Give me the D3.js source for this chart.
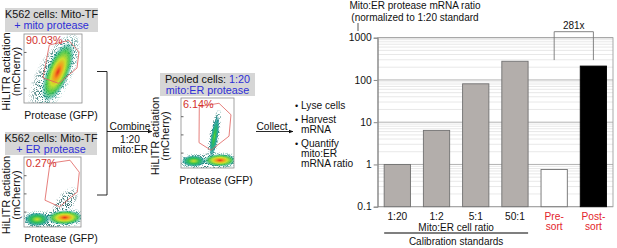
<!DOCTYPE html>
<html><head><meta charset="utf-8">
<script src="https://cdn.jsdelivr.net/npm/d3@7"></script>
<style>
html,body{margin:0;padding:0;background:#fff;}
svg{display:block;font-family:"Liberation Sans",Arial,Helvetica,sans-serif;}
</style></head><body>
<svg id="fig" width="617" height="248"></svg>
<script>
// ---------- bar chart data ----------
const categories = ["1:20", "1:2", "5:1", "50:1", "Pre-sort", "Post-sort"];
const categoryLines = [["1:20"], ["1:2"], ["5:1"], ["50:1"], ["Pre-", "sort"], ["Post-", "sort"]];
const ratioValues = [1, 6.4, 81, 277, 0.76, 213];
const barKinds = ["standard", "standard", "standard", "standard", "pre", "post"];
const yTickValues = [0.1, 1, 10, 100, 1000];
const yTickLabels = ["0.1", "1", "10", "100", "1000"];
const foldLabel = "281x";
const yTitleLines = ["Mito:ER protease mRNA ratio", "(normalized to 1:20 standard"];

// ---------- flow panels data (GFP x, mCherry y, 0-100 display units) ----------
const panelNames = ["mito", "er", "pooled"];
const headerLine1 = [["K562 cells: Mito-TF"], ["K562 cells: Mito-TF"], ["Pooled cells: ", "1:20"]];
const headerLine2 = ["+ mito protease", "+ ER protease", "mito:ER protease"];
const gatePercents = ["90.03%", "0.27%", "6.14%"];
const gateMito = [[43.6, 84], [77.1, 90.6], [94.8, 74.2], [91.4, 50.7], [60, 28.4], [32.8, 36.4]];
const gateER = [[45.6, 91.1], [80.7, 95.4], [97, 78.2], [93.5, 50], [62.5, 28.9], [36.8, 38.3]];
const gatePooled = [[34.5, 87.7], [71.7, 92.5], [94.3, 76.1], [90.6, 45.5], [56.6, 25.4], [34, 36.2]];
// populations: [gfp1, mch1, gfp2, mch2, spread, peak density]
const popsMito = [[22, 0, 82, 88, 30, 0.15], [42, 12, 75, 78, 20, 1.0]];
const popsER = [[2, 8, 99, 13, 18, 0.15], [56, 16, 86, 50, 17, 0.1], [8, 11, 38, 11, 12, 0.62],
                [48, 13, 95, 14, 13, 1.0]];
const popsPooled = [[2, 8, 99, 10, 17, 0.15], [53, 12, 72, 80, 10, 0.12], [57, 18, 69, 72, 7, 0.48],
                    [8, 10, 40, 10, 11, 0.62], [50, 11, 97, 11, 12, 1.0]];
const combineLabels = ["Combine", "1:20", "mito:ER"];
const collectLabel = "Collect";
const stepItems = [["Lyse cells"], ["Harvest", "mRNA"], ["Quantify", "mito:ER", "mRNA ratio"]];
const axisLabelY = ["HiLITR actiation", "(mCherry)"];
const axisLabelX = "Protease (GFP)";

const svg = d3.select("#fig");
const defs = svg.append("defs");
const BLUE = "#2e2ed6", RED = "#d2322d";

// arrow marker
defs.append("marker").attr("id", "arr").attr("viewBox", "0 0 10 10").attr("refX", 9).attr("refY", 5)
  .attr("markerWidth", 5).attr("markerHeight", 5).attr("orient", "auto")
  .append("path").attr("d", "M0,1 L10,5 L0,9 Z").attr("fill", "#111");

// speckle filter
const flt = defs.append("filter").attr("id", "speckle").attr("filterUnits", "userSpaceOnUse")
  .attr("x", 0).attr("y", 0).attr("width", 617).attr("height", 248);
flt.append("feTurbulence").attr("type", "fractalNoise").attr("baseFrequency", 1.1).attr("numOctaves", 2).attr("seed", 11).attr("result", "noise");
flt.append("feColorMatrix").attr("in", "noise").attr("type", "matrix")
  .attr("values", "0 0 0 0 0  0 0 0 0 0  0 0 0 0 0  0 0 0 9 -4.6").attr("result", "mask");
flt.append("feComposite").attr("in", "SourceGraphic").attr("in2", "mask").attr("operator", "in");

const density = d3.scaleLinear().domain([0, 0.2, 0.4, 0.6, 0.8, 1])
  .range(["#2f6f8a", "#1fa39a", "#33c24a", "#cde02c", "#f7a21e", "#e5311c"]);

// panel geometry (layout only)
const panelBox = [
  {x0: 24, x1: 82, y0: 34, y1: 103, hx0: 5, hx1: 98, hy0: 8, hy1: 32, ylx: 6, xlx: 61, xly: 119},
  {x0: 24, x1: 81, y0: 157, y1: 227, hx0: 5, hx1: 97, hy0: 132, hy1: 155, ylx: 6, xlx: 61, xly: 242},
  {x0: 181, x1: 234, y0: 98, y1: 168, hx0: 160, hx1: 255, hy0: 73, hy1: 96, ylx: 155, xlx: 216, xly: 184}
];
const gates = [gateMito, gateER, gatePooled];
const pops = [popsMito, popsER, popsPooled];

panelNames.forEach((name, pi) => {
  const b = panelBox[pi];
  const xs = d3.scaleLinear().domain([0, 100]).range([b.x0, b.x1]);
  const ys = d3.scaleLinear().domain([0, 100]).range([b.y1, b.y0]);
  const k = xs(1) - xs(0);
  const g = svg.append("g");
  // header
  g.append("rect").attr("x", b.hx0).attr("y", b.hy0).attr("width", b.hx1 - b.hx0).attr("height", b.hy1 - b.hy0).attr("fill", "#d6d6d6");
  const hc = (b.hx0 + b.hx1) / 2;
  const t1 = g.append("text").attr("x", hc).attr("y", b.hy0 + 9.5).attr("text-anchor", "middle").attr("font-size", 10.8).attr("fill", "#111");
  headerLine1[pi].forEach((s, i) => t1.append("tspan").text(s).attr("fill", i === 0 ? "#111" : BLUE));
  g.append("text").attr("x", hc).attr("y", b.hy0 + 20.5).attr("text-anchor", "middle").attr("font-size", 10.8).attr("fill", BLUE).text(headerLine2[pi]);
  // clip
  const cid = "clip" + pi;
  defs.append("clipPath").attr("id", cid).append("rect").attr("x", b.x0).attr("y", b.y0).attr("width", b.x1 - b.x0).attr("height", b.y1 - b.y0);
  const dg = g.append("g").attr("clip-path", `url(#${cid})`);
  const speck = dg.append("g").attr("filter", "url(#speckle)");
  const smooth = dg.append("g");
  pops[pi].forEach((p, j) => {
    const [gx1, my1, gx2, my2, sp, peak] = p;
    const X1 = xs(gx1), Y1 = ys(my1), X2 = xs(gx2), Y2 = ys(my2);
    const cx = (X1 + X2) / 2, cy = (Y1 + Y2) / 2;
    const L = Math.hypot(X2 - X1, Y2 - Y1);
    const w = sp * k;
    const ang = Math.atan2(Y2 - Y1, X2 - X1) * 180 / Math.PI;
    const rx = L / 2 + w * 0.6, ry = w;
    const tf = `translate(${cx},${cy}) rotate(${ang})`;
    // speckled outer scatter (dark teal dots)
    const hid = `h${pi}_${j}`;
    const hg = defs.append("radialGradient").attr("id", hid);
    [[0, 1], [0.6, 0.9], [1, 0]].forEach(([o, op]) =>
      hg.append("stop").attr("offset", o).attr("stop-color", peak < 0.3 ? "#2c6a6a" : "#1e8a7e").attr("stop-opacity", op));
    const hs = peak < 0.3 ? 1 : 1.35;
    speck.append("ellipse").attr("rx", rx * hs).attr("ry", ry * hs).attr("transform", tf).attr("fill", `url(#${hid})`);
    if (peak >= 0.3) {
      const sid = `s${pi}_${j}`;
      const sg = defs.append("radialGradient").attr("id", sid);
      [[0, 1, 1], [0.22, 0.82, 1], [0.45, 0.6, 1], [0.7, 0.42, 0.9], [0.88, 0.25, 0.55], [1, 0.15, 0]].forEach(([o, f, op]) =>
        sg.append("stop").attr("offset", o).attr("stop-color", density(peak * f)).attr("stop-opacity", op));
      smooth.append("ellipse").attr("rx", rx).attr("ry", ry).attr("transform", tf).attr("fill", `url(#${sid})`);
    }
  });
  // frame and ticks
  g.append("rect").attr("x", b.x0).attr("y", b.y0).attr("width", b.x1 - b.x0).attr("height", b.y1 - b.y0)
    .attr("fill", "none").attr("stroke", "#8c8c8c").attr("stroke-width", 0.8);
  const ax = g.append("g").attr("transform", `translate(${b.x0},0)`)
    .call(d3.axisRight(ys).tickValues([22, 48, 74]).tickSize(2.5).tickFormat(""));
  ax.select(".domain").remove();
  ax.selectAll("line").attr("stroke", "#666");
  // gate
  g.append("path").attr("d", d3.line().x(d => xs(d[0])).y(d => ys(d[1])).curve(d3.curveLinearClosed)(gates[pi]))
    .attr("fill", "none").attr("stroke", "#e0605c").attr("stroke-width", 0.8);
  g.append("text").attr("x", b.x0 + 2).attr("y", b.y0 + 10).attr("font-size", 10.8).attr("fill", RED).text(gatePercents[pi]);
  // axis labels
  const ymid = (b.y0 + b.y1) / 2 + 3;
  axisLabelY.forEach((s, i) => {
    g.append("text").attr("transform", `translate(${b.ylx + 4 + i * 10},${ymid}) rotate(-90)`)
      .attr("text-anchor", "middle").attr("font-size", 11).attr("fill", "#111").text(s);
  });
  g.append("text").attr("x", b.xlx).attr("y", b.xly).attr("text-anchor", "middle").attr("font-size", 10.5).attr("fill", "#111").text(axisLabelX);
});

// bracket + combine arrow
const conn = svg.append("g").attr("stroke", "#111").attr("stroke-width", 0.9).attr("fill", "none");
conn.append("path").attr("d", "M97,71.5 H107 V195 H97");
conn.append("line").attr("x1", 107).attr("y1", 131.5).attr("x2", 152).attr("y2", 131.5).attr("marker-end", "url(#arr)");
combineLabels.forEach((s, i) => {
  svg.append("text").attr("x", 130).attr("y", [129.5, 142.5, 152.5][i])
    .attr("text-anchor", "middle").attr("font-size", 10.2).attr("fill", "#111").text(s);
});
// collect arrow
conn.append("line").attr("x1", 256).attr("y1", 131.5).attr("x2", 293).attr("y2", 131.5).attr("marker-end", "url(#arr)");
svg.append("text").attr("x", 272).attr("y", 129.5).attr("text-anchor", "middle").attr("font-size", 10.2).attr("fill", "#111").text(collectLabel);
// steps
let sy = 108.5;
stepItems.forEach((lines, i) => {
  svg.append("text").attr("x", 295).attr("y", sy).attr("font-size", 9).attr("fill", "#111").text("•");
  lines.forEach((s, j) => {
    svg.append("text").attr("x", 301).attr("y", sy + j * 9.6).attr("font-size", 10.2).attr("fill", "#111").text(s);
  });
  sy += lines.length * 9.6 + 5;
});

// ---------- bar chart ----------
const yScale = d3.scaleLog().domain([0.1, 1000]).range([206.7, 37.7]);
const xBand = d3.scaleBand().domain(categories).range([377.7, 613]).paddingInner(0.33).paddingOuter(0.165);
const bc = svg.append("g");
const gridVals = yScale.ticks();
const isMajor = d => Math.abs(Math.log10(d) - Math.round(Math.log10(d))) < 1e-6;
bc.selectAll("line.grid").data(gridVals).join("line").attr("class", "grid")
  .attr("x1", 377.7).attr("x2", 613).attr("y1", d => yScale(d)).attr("y2", d => yScale(d))
  .attr("stroke", d => isMajor(d) ? "#a9a9a9" : "#e2e2e2")
  .attr("stroke-width", d => isMajor(d) ? 0.9 : 0.8);
bc.append("rect").attr("x", 377.7).attr("y", yScale(1000)).attr("width", 613 - 377.7).attr("height", yScale(0.1) - yScale(1000))
  .attr("fill", "none").attr("stroke", "#a0a0a0").attr("stroke-width", 0.9);
bc.selectAll("rect.bar").data(categories).join("rect").attr("class", "bar")
  .attr("x", d => xBand(d)).attr("width", xBand.bandwidth())
  .attr("y", (d, i) => yScale(ratioValues[i])).attr("height", (d, i) => yScale(0.1) - yScale(ratioValues[i]))
  .attr("fill", (d, i) => barKinds[i] === "standard" ? "#b3aeab" : barKinds[i] === "pre" ? "#fff" : "#000")
  .attr("stroke", (d, i) => barKinds[i] === "post" ? "#000" : "#707070").attr("stroke-width", 0.9);
const yAxis = bc.append("g").attr("transform", "translate(377.7,0)")
  .call(d3.axisLeft(yScale).tickValues(yTickValues).tickFormat((d, i) => yTickLabels[i]).tickSize(4).tickPadding(2));
yAxis.select(".domain").attr("stroke", "#888");
yAxis.selectAll("line").attr("stroke", "#888");
yAxis.selectAll("text").attr("font-size", 10.3).attr("fill", "#111").attr("font-family", "Liberation Sans, Arial, sans-serif");
// x labels
categories.forEach((c, i) => {
  categoryLines[i].forEach((s, j) => {
    bc.append("text").attr("x", xBand(c) + xBand.bandwidth() / 2).attr("y", 219.5 + j * 10.5)
      .attr("text-anchor", "middle").attr("font-size", 10.2).attr("fill", barKinds[i] === "standard" ? "#111" : "#e3242b").text(s);
  });
});
const stdCats = categories.filter((c, i) => barKinds[i] === "standard");
const sx0 = xBand(stdCats[0]), sx1 = xBand(stdCats[stdCats.length - 1]) + xBand.bandwidth();
bc.append("text").attr("x", (sx0 + sx1) / 2).attr("y", 230.5).attr("text-anchor", "middle").attr("font-size", 10).attr("fill", "#111").text("Mito:ER cell ratio");
bc.append("line").attr("x1", sx0).attr("x2", sx1).attr("y1", 233).attr("y2", 233).attr("stroke", "#000").attr("stroke-width", 1.1);
bc.append("text").attr("x", (sx0 + sx1) / 2).attr("y", 244.5).attr("text-anchor", "middle").attr("font-size", 10).attr("fill", "#111").text("Calibration standards");
// fold bracket
const bxA = xBand("Pre-sort") + xBand.bandwidth() / 2, bxB = xBand("Post-sort") + xBand.bandwidth() / 2;
const legY = yScale(ratioValues[5]) - 6;
bc.append("path").attr("d", `M${bxA},${legY} V31.7 H${bxB} V${legY}`).attr("fill", "none").attr("stroke", "#777").attr("stroke-width", 0.9);
bc.append("text").attr("x", (bxA + bxB) / 2).attr("y", 28.5).attr("text-anchor", "middle").attr("font-size", 10).attr("fill", "#111").text(foldLabel);
// title
yTitleLines.forEach((s, i) => {
  bc.append("text").attr("x", 415).attr("y", 8.5 + i * 12).attr("text-anchor", "middle")
    .attr("font-size", 10).attr("fill", "#111").text(s);
});
bc.append("line").attr("x1", 358).attr("x2", 358).attr("y1", 23).attr("y2", 31).attr("stroke", "#444").attr("stroke-width", 0.9);
</script>
</body></html>
